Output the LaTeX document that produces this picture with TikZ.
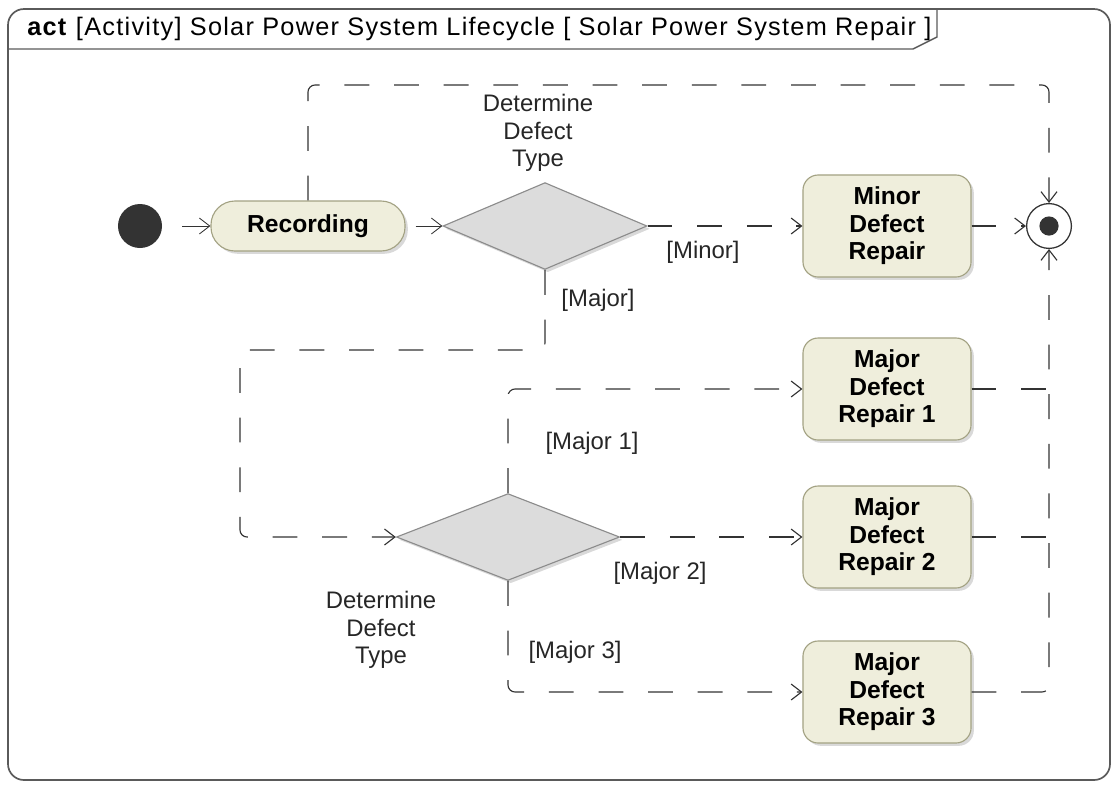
\documentclass[tikz,border=0pt]{standalone}
\usepackage{fontspec}
\setmainfont{Liberation Sans}
\usetikzlibrary{arrows.meta,positioning,shapes.geometric,shadows}
\definecolor{ActFill}{HTML}{EFEEDC}
\definecolor{ActLine}{HTML}{A3A283}
\definecolor{DecFill}{HTML}{DCDCDC}
\definecolor{DecLine}{HTML}{8C8C8C}
\definecolor{Ink}{HTML}{333333}
\definecolor{FrameLine}{HTML}{5A5A5A}

\begin{document}
\begin{tikzpicture}[
  x=0.025cm,y=-0.025cm,
  font=\fontsize{17}{19.5}\selectfont,
  act/.style={draw=ActLine,fill=ActFill,rounded corners=0.38cm,minimum width=4.2cm,minimum height=2.55cm,align=center,font=\fontsize{17.5}{19.5}\selectfont\bfseries,inner sep=2pt,line width=0.8pt,drop shadow={shadow xshift=2pt,shadow yshift=-2pt,opacity=0.3}},
  dec/.style={diamond,draw=DecLine,fill=DecFill,minimum height=2.17cm,inner sep=0pt,line width=0.8pt,drop shadow={shadow xshift=2pt,shadow yshift=-2pt,opacity=0.3}},
  flow/.style={-{Straight Barb[length=2.6mm,width=4mm]},draw=Ink,line width=0.6pt},
  cflow/.style={flow,dash pattern=on 0.62cm off 0.62cm,line width=0.8pt,rounded corners=5pt},
  guard/.style={text=black!85,inner sep=0pt}
]
\useasboundingbox (0,0) rectangle (1115,784);
% frame and header
\draw[FrameLine,line width=1.2pt,rounded corners=0.4cm] (8,9) rectangle (1110,780);
\draw[FrameLine,line width=1pt] (8,49) -- (913,49) -- (937,37) -- (937,9);
\node[anchor=west,inner sep=0pt,font=\fontsize{18}{20}\selectfont\addfontfeature{LetterSpace=5}] (hdr) at (27,29) {\textbf{act} [Activity] Solar Power System Lifecycle [ Solar Power System Repair ]};

% nodes
\node[circle,fill=Ink,minimum size=1.1cm,inner sep=0pt] (init) at (140,226) {};
\node[act,rounded corners=0.6cm,minimum width=4.85cm,minimum height=1.25cm] (rec) at (308,226) {Recording};
\node[dec,minimum width=5.1cm] (dec1) at (545,226) {};
\node[guard,align=center] (d1lbl) at (538,133) {Determine\\Defect\\Type};
\node[act] (min) at (887,226) {Minor\\Defect\\Repair};
\node[circle,draw=Ink,fill=white,line width=0.9pt,minimum size=1.12cm,inner sep=0pt,
  path picture={\fill[Ink] (path picture bounding box.center) circle (0.24cm);}] (fin) at (1049,226) {};
\node[act] (maj1) at (887,389) {Major\\Defect\\Repair 1};
\node[act] (maj2) at (887,537) {Major\\Defect\\Repair 2};
\node[act] (maj3) at (887,692) {Major\\Defect\\Repair 3};
\node[dec,minimum width=5.58cm] (dec2) at (508,537) {};
\node[guard,align=center] (d2lbl) at (381,630) {Determine\\Defect\\Type};

% guards
\node[guard] (gmin) at (703,252) {[Minor]};
\node[guard] (gmaj) at (598,300) {[Major]};
\node[guard] (g1) at (592,443) {[Major 1]};
\node[guard] (g2) at (660,573) {[Major 2]};
\node[guard] (g3) at (575,652) {[Major 3]};

\coordinate (loopc) at (1049,85);
\coordinate (majc) at (240,350);
\coordinate (j1) at (1049,389);
\coordinate (j2) at (1049,537);

% flows
\draw[flow,shorten <=0.5cm] (init) -- (rec);
\draw[flow,shorten <=0.25cm] (rec) -- (dec1);
\draw[cflow] (rec.north) |- (loopc) -- (fin.north);
\draw[cflow] (dec1) -- (min);
\draw[cflow] (dec1.south) |- (majc) |- (dec2.west);
\draw[cflow] (dec2.north) |- (maj1.west);
\draw[cflow] (dec2) -- (maj2);
\draw[cflow] (dec2.south) |- (maj3.west);
\draw[cflow] (min) -- (fin);
\draw[cflow] (maj3.east) -| (fin.south);
\draw[cflow,-] (maj1.east) -- (j1);
\draw[cflow,-] (maj2.east) -- (j2);
\end{tikzpicture}
\end{document}
